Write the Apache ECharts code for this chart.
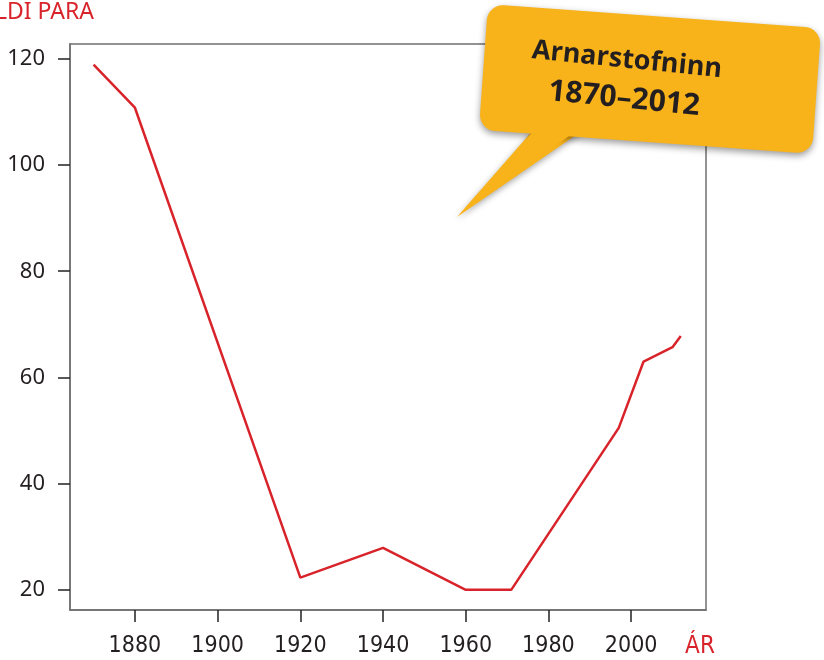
<!DOCTYPE html>
<html><head><meta charset="utf-8">
<script src="https://cdn.jsdelivr.net/npm/echarts@6/dist/echarts.min.js"></script>
<style>html,body{margin:0;padding:0;background:#fff}#c{width:824px;height:660px}</style>
</head><body><div id="c"></div>
<script>
const years = [1870, 1880, 1920, 1940, 1960, 1971, 1997, 2003, 2010, 2012];
const pairs = [118.9, 110.8, 22.3, 27.9, 20, 20, 50.5, 63.0, 65.7, 67.8];
const xTicks = [1880, 1900, 1920, 1940, 1960, 1980, 2000];
const yTicks = [20, 40, 60, 80, 100, 120];
const yTitle = 'FJÖLDI PARA';
const xTitle = 'ÁR';
const calloutLines = ['Arnarstofninn', '1870–2012'];

const red = '#d8232a';
const narrow = '"DejaVu Sans Condensed", "Liberation Sans Narrow", sans-serif';
const chart = echarts.init(document.getElementById('c'));
chart.setOption({
  animation: false,
  grid: { left: 70, right: 118, top: 44, bottom: 50, show: true, borderColor: '#6f6f6f', borderWidth: 1.5 },
  xAxis: {
    type: 'value', min: 1864.3, max: 2018.1,
    splitLine: { show: false },
    axisLine: { lineStyle: { color: '#6f6f6f', width: 1.5 } },
    axisTick: { customValues: xTicks, length: 12, lineStyle: { color: '#222', width: 1.5 } },
    axisLabel: { customValues: xTicks, formatter: v => String(v), margin: 25, color: '#231f20', fontSize: 23, fontFamily: narrow }
  },
  yAxis: {
    type: 'value', min: 16.2, max: 122.8,
    splitLine: { show: false },
    axisLine: { show: true, lineStyle: { color: '#6f6f6f', width: 1.5 } },
    axisTick: { show: true, customValues: yTicks, length: 12, lineStyle: { color: '#222', width: 1.5 } },
    axisLabel: { customValues: yTicks, margin: 25, color: '#231f20', fontSize: 22, fontFamily: '"Noto Sans", sans-serif' }
  },
  series: [{
    type: 'line', data: years.map((y, i) => [y, pairs[i]]),
    showSymbol: false, lineStyle: { color: red, width: 2.5 }, itemStyle: { color: red }
  }],
  graphic: [
    { type: 'text', x: 94, y: 1, style: { text: yTitle, fill: red, font: '23px "Noto Sans", sans-serif', align: 'right', verticalAlign: 'top' } },
    { type: 'text', x: 700, y: 647, style: { text: xTitle, fill: red, font: '24px ' + narrow, align: 'center', verticalAlign: 'middle' } },
    { type: 'group', children: [
      { type: 'polygon', shape: { points: [[542, 120], [592, 124], [457, 217]] },
        style: { fill: '#f8b21a', shadowBlur: 6, shadowColor: 'rgba(0,0,0,0.35)', shadowOffsetY: 2 } },
      { type: 'rect', x: 650, y: 79, rotation: -0.072,
        shape: { x: -167, y: -63, width: 334, height: 126, r: 16 },
        style: { fill: '#f8b21a', shadowBlur: 7, shadowColor: 'rgba(0,0,0,0.4)', shadowOffsetY: 3 } },
      { type: 'polygon', shape: { points: [[545, 118], [590, 121], [460, 214]] }, style: { fill: '#f8b21a' } },
      { type: 'text', x: 627, y: 60, rotation: -0.1,
        style: { text: calloutLines[0], fill: '#231f20', font: 'bold 27px "Open Sans", sans-serif', align: 'center', verticalAlign: 'middle' } },
      { type: 'text', x: 624, y: 99, rotation: -0.1,
        style: { text: calloutLines[1], fill: '#231f20', font: 'bold 30px "Open Sans", sans-serif', align: 'center', verticalAlign: 'middle' } }
    ]}
  ]
});
</script></body></html>
